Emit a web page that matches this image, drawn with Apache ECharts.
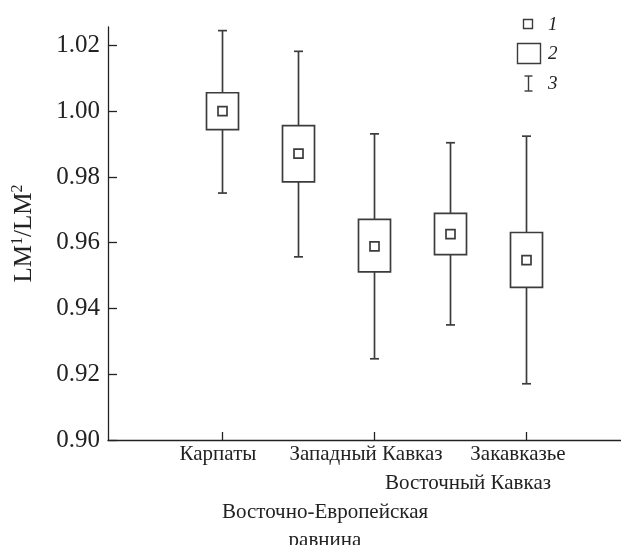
<!DOCTYPE html>
<html>
<head>
<meta charset="utf-8">
<script src="https://cdn.jsdelivr.net/npm/echarts@6/dist/echarts.min.js"></script>
<style>
    html, body { margin: 0; padding: 0; background: #fff; }
    #main { width: 621px; height: 545px; }
</style>
</head>
<body>
<div id="main"></div>
<script>
    // regions (x positions 1..5)
    var categories = ['Карпаты', 'Восточно-Европейская\nравнина', 'Западный Кавказ', 'Восточный Кавказ', 'Закавказье'];
    var positions = [1, 2, 3, 4, 5];

    // values
    var whiskerLow  = [0.9751, 0.9557, 0.9247, 0.9350, 0.9171];
    var boxLow      = [0.9944, 0.9785, 0.9511, 0.9564, 0.9464];
    var means       = [1.0000, 0.9871, 0.9589, 0.9626, 0.9547];
    var boxHigh     = [1.0056, 0.9956, 0.9671, 0.9689, 0.9631];
    var whiskerHigh = [1.0245, 1.0182, 0.9931, 0.9904, 0.9924];

    var yTicks = [0.90, 0.92, 0.94, 0.96, 0.98, 1.00, 1.02];
    var xTicks = [1, 3, 5];

    var FONT = 'Liberation Serif';
    var INK = '#3c3c3c';

    var data = positions.map(function (p, i) {
        return [p, whiskerLow[i], boxLow[i], means[i], boxHigh[i], whiskerHigh[i]];
    });

    // which label row each category sits on, and its little sideways shift
    var labelRow = [0, 2, 0, 1, 0];
    var labelStyle = ['k', 've', 'zk', 'vk', 'zk'];

    function renderBox(params, api) {
        var x = api.value(0);
        var low = api.coord([x, api.value(1)]);
        var q1 = api.coord([x, api.value(2)]);
        var mid = api.coord([x, api.value(3)]);
        var q3 = api.coord([x, api.value(4)]);
        var high = api.coord([x, api.value(5)]);
        var cx = Math.round(mid[0]) + 0.5;
        var boxW = 32, capW = 9, sq = 9;
        var ls = { stroke: INK, lineWidth: 1.7, fill: null };
        return {
            type: 'group',
            children: [
                { type: 'line', shape: { x1: cx, y1: high[1], x2: cx, y2: q3[1] }, style: ls },
                { type: 'line', shape: { x1: cx, y1: q1[1], x2: cx, y2: low[1] }, style: ls },
                { type: 'line', shape: { x1: cx - capW / 2, y1: high[1], x2: cx + capW / 2, y2: high[1] }, style: ls },
                { type: 'line', shape: { x1: cx - capW / 2, y1: low[1], x2: cx + capW / 2, y2: low[1] }, style: ls },
                { type: 'rect', shape: { x: cx - boxW / 2, y: q3[1], width: boxW, height: q1[1] - q3[1] },
                  style: { stroke: INK, lineWidth: 1.7, fill: '#fff' } },
                { type: 'rect', shape: { x: cx - sq / 2, y: mid[1] - sq / 2, width: sq, height: sq },
                  style: { stroke: INK, lineWidth: 1.7, fill: '#fff' } }
            ]
        };
    }

    var richStyles = {
        k:  { fontFamily: FONT, fontSize: 21, lineHeight: 28, color: '#222', padding: [0, 8, 0, 0] },
        zk: { fontFamily: FONT, fontSize: 21, lineHeight: 28, color: '#222', padding: [0, 16, 0, 0] },
        vk: { fontFamily: FONT, fontSize: 21, lineHeight: 28, color: '#222', padding: [0, 0, 0, 36] },
        ve: { fontFamily: FONT, fontSize: 21, lineHeight: 28, color: '#222', padding: [0, 0, 0, 54] }
    };

    function catLabel(v) {
        var i = Math.round(v) - 1;
        var s = labelStyle[i];
        return categories[i].split('\n').map(function (t) {
            return '{' + s + '|' + t + '}';
        }).join('\n');
    }

    // one x axis per label row so the rows don't hide each other
    function makeXAxis(row) {
        var vals = positions.filter(function (p, i) { return labelRow[i] === row; });
        return {
            type: 'value',
            position: 'bottom',
            offset: 0,
            min: -0.5,
            max: 6.25,
            splitLine: { show: false },
            axisLine: { show: row === 0, onZero: false, lineStyle: { color: '#222', width: 1.3 } },
            axisTick: { show: row === 0, inside: true, length: 8, customValues: xTicks, lineStyle: { color: '#222', width: 1.3 } },
            axisLabel: {
                customValues: vals,
                showMinLabel: true,
                showMaxLabel: true,
                hideOverlap: false,
                margin: row * 29,
                color: '#222',
                fontFamily: FONT,
                fontSize: 21,
                lineHeight: 28,
                formatter: catLabel,
                rich: richStyles
            }
        };
    }

    var myChart = echarts.init(document.getElementById('main'));

    var option = {
        backgroundColor: '#fff',
        animation: false,
        grid: { left: 108, right: 0, top: 27, bottom: 105, containLabel: false, outerBoundsMode: 'none' },
        xAxis: [makeXAxis(0), makeXAxis(1), makeXAxis(2)],
        yAxis: {
            type: 'value',
            min: 0.90,
            max: 1.0256,
            splitLine: { show: false },
            axisLine: { onZero: false, lineStyle: { color: '#222', width: 1.3 } },
            axisTick: { inside: true, length: 9, customValues: yTicks, lineStyle: { color: '#222', width: 1.3 } },
            axisLabel: {
                customValues: yTicks,
                showMinLabel: true,
                showMaxLabel: true,
                margin: 8,
                color: '#222',
                fontFamily: FONT,
                fontSize: 25,
                formatter: function (v) { return v.toFixed(2); }
            },
            name: '{b|LM}{s|1}{b|/LM}{s|2}',
            nameLocation: 'middle',
            nameRotate: 90,
            nameGap: 70,
            nameTextStyle: {
                rich: {
                    b: { fontFamily: FONT, fontSize: 25, lineHeight: 28, color: '#222' },
                    s: { fontFamily: FONT, fontSize: 16, lineHeight: 12, color: '#222', verticalAlign: 'top' }
                }
            }
        },
        series: [{
            type: 'custom',
            xAxisIndex: 0,
            renderItem: renderBox,
            encode: { x: 0, y: [1, 2, 3, 4, 5] },
            data: data,
            clip: false
        }],
        graphic: [
            { type: 'rect', shape: { x: 523.5, y: 19.5, width: 9, height: 9 }, style: { stroke: INK, lineWidth: 1.4, fill: '#fff' } },
            { type: 'rect', shape: { x: 517.5, y: 43.5, width: 23, height: 20 }, style: { stroke: INK, lineWidth: 1.4, fill: '#fff' } },
            { type: 'line', shape: { x1: 528.5, y1: 76, x2: 528.5, y2: 91 }, style: { stroke: INK, lineWidth: 1.4 } },
            { type: 'line', shape: { x1: 524.5, y1: 76, x2: 532.5, y2: 76 }, style: { stroke: INK, lineWidth: 1.4 } },
            { type: 'line', shape: { x1: 524.5, y1: 91, x2: 532.5, y2: 91 }, style: { stroke: INK, lineWidth: 1.4 } },
            { type: 'text', left: 548, top: 15, style: { text: '1', font: 'italic 19px "Liberation Serif"', fill: '#222' } },
            { type: 'text', left: 548, top: 44, style: { text: '2', font: 'italic 19px "Liberation Serif"', fill: '#222' } },
            { type: 'text', left: 548, top: 74, style: { text: '3', font: 'italic 19px "Liberation Serif"', fill: '#222' } }
        ]
    };

    myChart.setOption(option);

    window.addEventListener('resize', function () {
        myChart.resize();
    });
</script>
</body>
</html>
